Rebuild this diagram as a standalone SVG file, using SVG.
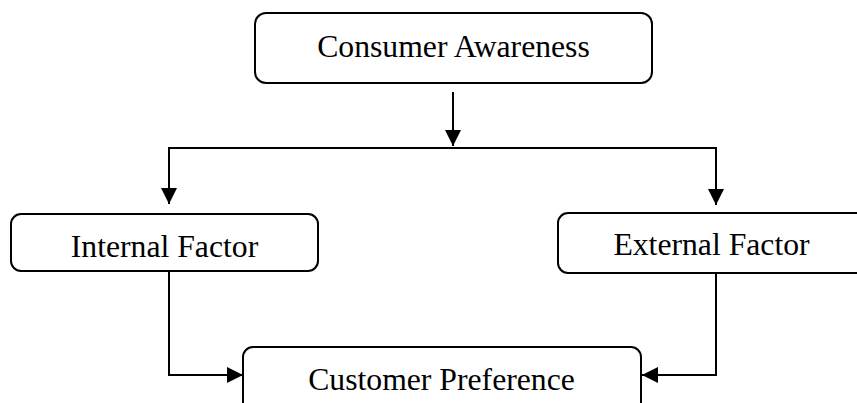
<svg xmlns="http://www.w3.org/2000/svg" width="857" height="403" viewBox="0 0 857 403">
  <style>
    .box { fill: #ffffff; stroke: #000000; stroke-width: 2; }
    .label { font-family: "Liberation Serif", "Times New Roman", serif; font-size: 31.7px; fill: #000000; text-anchor: middle; }
    .wire { fill: none; stroke: #000000; stroke-width: 2; }
  </style>
  <defs>
    <marker id="arrow" viewBox="0 0 10 10" refX="10" refY="5" markerWidth="16" markerHeight="16" markerUnits="userSpaceOnUse" orient="auto">
      <path d="M0,0 L10,5 L0,10 Z" fill="#000000"/>
    </marker>
  </defs>
  <rect width="857" height="403" fill="#ffffff"/>

  <g id="connectors">
    <!-- awareness down to the split bar -->
    <line class="wire" x1="453" y1="92" x2="453" y2="146" marker-end="url(#arrow)"/>
    <!-- split bar -->
    <line class="wire" x1="168" y1="148" x2="717" y2="148"/>
    <line class="wire" x1="169" y1="147" x2="169" y2="204" marker-end="url(#arrow)"/>
    <line class="wire" x1="716" y1="147" x2="716" y2="205" marker-end="url(#arrow)"/>
    <!-- factors into preference -->
    <polyline class="wire" points="169,271 169,375 243,375" marker-end="url(#arrow)"/>
    <polyline class="wire" points="716,273 716,375 642,375" marker-end="url(#arrow)"/>
  </g>

  <g id="consumer-awareness">
    <rect class="box" x="255" y="13" width="397" height="70" rx="11"/>
    <text class="label" x="453.5" y="57">Consumer Awareness</text>
  </g>

  <g id="internal-factor">
    <rect class="box" x="11" y="214" width="307" height="57" rx="10"/>
    <text class="label" x="164.5" y="257">Internal Factor</text>
  </g>

  <g id="external-factor">
    <rect class="box" x="558" y="213" width="320" height="60" rx="10"/>
    <text class="label" x="711.5" y="255">External Factor</text>
  </g>

  <g id="customer-preference">
    <rect class="box" x="243" y="347" width="398" height="80" rx="10"/>
    <text class="label" x="441.5" y="390">Customer Preference</text>
  </g>
</svg>
